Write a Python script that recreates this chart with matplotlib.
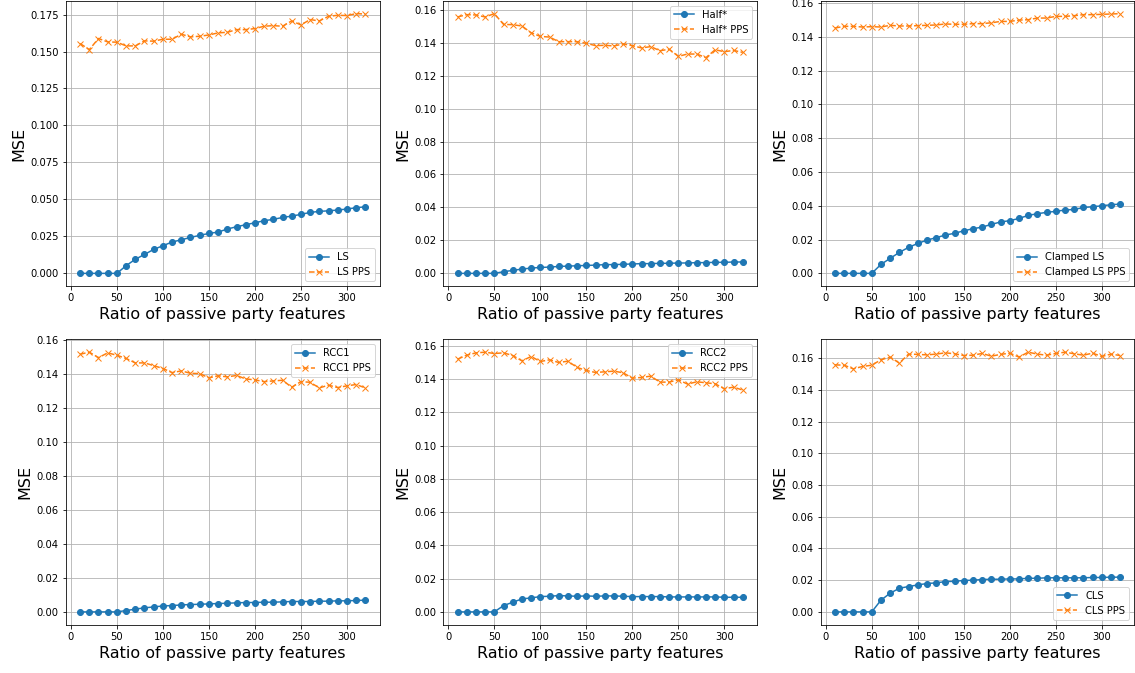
import numpy as np
import matplotlib
matplotlib.use('Agg')
import matplotlib.pyplot as plt
from matplotlib.ticker import MultipleLocator

# x axis: number of passive party features
ratio = np.arange(10, 330, 10)

# LS
ls = [0, 0, 0, 0, 0, 0.0052, 0.0095, 0.0128, 0.0162, 0.0187, 0.0212, 0.0227, 0.0243, 0.0257, 0.0270, 0.0279,
      0.0300, 0.0315, 0.0329, 0.0342, 0.0356, 0.0365, 0.0378, 0.0387, 0.0399, 0.0412, 0.0419, 0.0423, 0.0428,
      0.0435, 0.0444, 0.0450]
ls_pps = [0.1554, 0.1513, 0.1588, 0.1565, 0.1563, 0.1538, 0.1538, 0.1572, 0.1570, 0.1583, 0.1583, 0.1617,
          0.1599, 0.1603, 0.1612, 0.1626, 0.1630, 0.1648, 0.1648, 0.1655, 0.1671, 0.1675, 0.1671, 0.1707,
          0.1680, 0.1716, 0.1707, 0.1738, 0.1745, 0.1743, 0.1756, 0.1754]

# Half*
half = [0, 0, 0, 0, 0, 0.0010, 0.0018, 0.0026, 0.0032, 0.0036, 0.0038, 0.0042, 0.0044, 0.0046, 0.0048, 0.0050,
        0.0053, 0.0053, 0.0055, 0.0057, 0.0059, 0.0059, 0.0061, 0.0061, 0.0063, 0.0063, 0.0065, 0.0065, 0.0067,
        0.0067, 0.0069, 0.0069]
half_pps = [0.1556, 0.1570, 0.1568, 0.1556, 0.1576, 0.1511, 0.1509, 0.1501, 0.1460, 0.1438, 0.1434, 0.1406,
            0.1406, 0.1406, 0.1396, 0.1382, 0.1384, 0.1380, 0.1392, 0.1382, 0.1368, 0.1376, 0.1351, 0.1360,
            0.1317, 0.1331, 0.1331, 0.1309, 0.1357, 0.1345, 0.1353, 0.1341]

# Clamped LS
clamped = [0, 0, 0, 0, 0, 0.0053, 0.0089, 0.0124, 0.0154, 0.0177, 0.0197, 0.0211, 0.0227, 0.0237, 0.0252,
           0.0264, 0.0274, 0.0290, 0.0304, 0.0312, 0.0325, 0.0343, 0.0353, 0.0361, 0.0367, 0.0375, 0.0378,
           0.0390, 0.0394, 0.0400, 0.0406, 0.0410]
clamped_pps = [0.1452, 0.1462, 0.1462, 0.1458, 0.1460, 0.1458, 0.1468, 0.1464, 0.1464, 0.1466, 0.1468, 0.1470,
               0.1476, 0.1474, 0.1474, 0.1478, 0.1478, 0.1483, 0.1491, 0.1491, 0.1499, 0.1501, 0.1511, 0.1511,
               0.1521, 0.1521, 0.1525, 0.1531, 0.1531, 0.1533, 0.1535, 0.1537]

# RCC1
rcc1 = [0, 0, 0, 0, 0, 0.0008, 0.0016, 0.0024, 0.0029, 0.0035, 0.0037, 0.0041, 0.0043, 0.0045, 0.0047, 0.0049,
        0.0051, 0.0053, 0.0055, 0.0055, 0.0057, 0.0057, 0.0059, 0.0061, 0.0061, 0.0061, 0.0063, 0.0063, 0.0065,
        0.0065, 0.0067, 0.0069]
rcc1_pps = [0.1515, 0.1527, 0.1495, 0.1523, 0.1509, 0.1490, 0.1464, 0.1464, 0.1448, 0.1431, 0.1407, 0.1417,
            0.1403, 0.1401, 0.1376, 0.1388, 0.1382, 0.1390, 0.1370, 0.1364, 0.1354, 0.1358, 0.1362, 0.1321,
            0.1354, 0.1350, 0.1317, 0.1333, 0.1319, 0.1329, 0.1337, 0.1317]

# RCC2
rcc2 = [0, 0, 0, 0, 0, 0.0038, 0.0058, 0.0078, 0.0084, 0.0092, 0.0094, 0.0098, 0.0096, 0.0094, 0.0096, 0.0094,
        0.0096, 0.0096, 0.0094, 0.0092, 0.0092, 0.0092, 0.0092, 0.0090, 0.0090, 0.0090, 0.0090, 0.0090, 0.0090,
        0.0088, 0.0088, 0.0088]
rcc2_pps = [0.1520, 0.1544, 0.1558, 0.1562, 0.1554, 0.1558, 0.1542, 0.1510, 0.1536, 0.1506, 0.1516, 0.1500,
            0.1508, 0.1470, 0.1452, 0.1440, 0.1444, 0.1448, 0.1438, 0.1406, 0.1410, 0.1418, 0.1382, 0.1382,
            0.1396, 0.1370, 0.1384, 0.1378, 0.1372, 0.1342, 0.1352, 0.1334]

# CLS
cls = [0, 0, 0, 0, 0, 0.0074, 0.0118, 0.0149, 0.0160, 0.0170, 0.0179, 0.0183, 0.0191, 0.0193, 0.0198, 0.0200,
       0.0204, 0.0206, 0.0206, 0.0208, 0.0208, 0.0212, 0.0212, 0.0215, 0.0215, 0.0215, 0.0215, 0.0215, 0.0217,
       0.0217, 0.0219, 0.0219]
cls_pps = [0.1558, 0.1556, 0.1533, 0.1548, 0.1556, 0.1590, 0.1607, 0.1569, 0.1626, 0.1624, 0.1621, 0.1626,
           0.1634, 0.1628, 0.1617, 0.1619, 0.1630, 0.1613, 0.1624, 0.1632, 0.1607, 0.1638, 0.1626, 0.1619,
           0.1630, 0.1638, 0.1628, 0.1619, 0.1632, 0.1611, 0.1626, 0.1617]

# panels: (name, method values, pps values, legend position, y tick step)
panels = [
    ('LS', ls, ls_pps, 'lower right', 0.025),
    ('Half*', half, half_pps, 'upper right', 0.02),
    ('Clamped LS', clamped, clamped_pps, 'lower right', 0.02),
    ('RCC1', rcc1, rcc1_pps, 'upper right', 0.02),
    ('RCC2', rcc2, rcc2_pps, 'upper right', 0.02),
    ('CLS', cls, cls_pps, 'lower right', 0.02),
]

dpi = 72
fig, axes = plt.subplots(2, 3, figsize=(1135 / dpi, 673 / dpi), dpi=dpi)
fig.subplots_adjust(left=0.058, right=0.9995, bottom=0.0715, top=0.999, wspace=0.203, hspace=0.185)

for ax, (name, vals, pps, loc, step) in zip(axes.flat, panels):
    ax.plot(ratio, vals, marker='o', linestyle='-', label=name)
    ax.plot(ratio, pps, marker='x', linestyle='--', label=name + ' PPS')
    ax.yaxis.set_major_locator(MultipleLocator(step))
    ax.set_xlabel('Ratio of passive party features', fontsize=16)
    ax.set_ylabel('MSE', fontsize=16)
    ax.grid(True)
    ax.legend(loc=loc)

fig.savefig('out.png', dpi=dpi)
